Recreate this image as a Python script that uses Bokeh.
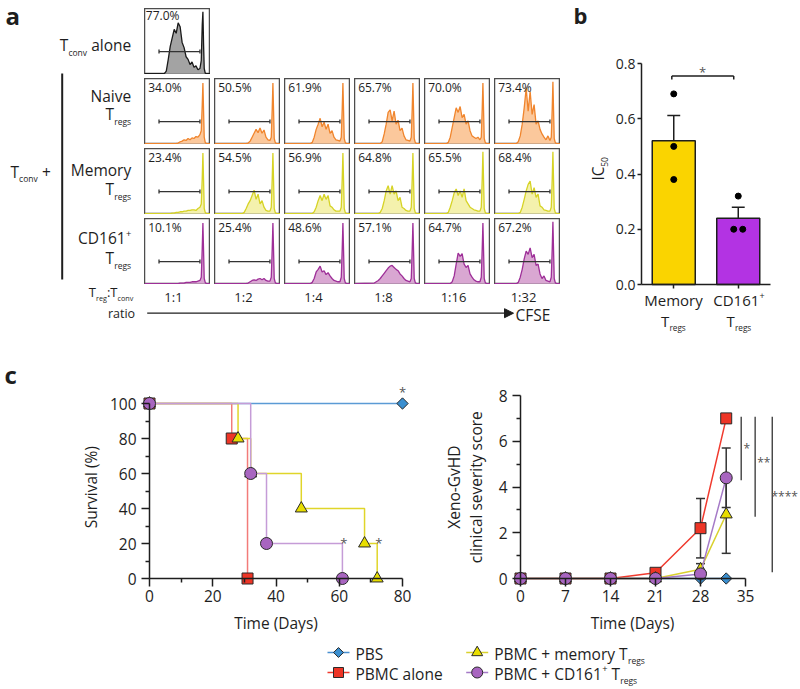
import numpy as np
from bokeh.plotting import figure
from bokeh.layouts import row, column
from bokeh.models import (FixedTicker, Range1d, PrintfTickFormatter,
                          Arrow, NormalHead, Spacer)
from bokeh.core.properties import value
from bokeh.embed import file_html
from bokeh.resources import INLINE

FONT = "Open Sans"
INK = "#1e1e1e"
STAR = "#555555"

# ---------------- Panel a : CFSE dilution ----------------
RATIOS = ["1:1", "1:2", "1:4", "1:8", "1:16", "1:32"]
PCT_ALONE = 77.0
PCT_NAIVE = [34.0, 50.5, 61.9, 65.7, 70.0, 73.4]
PCT_MEMORY = [23.4, 54.5, 56.9, 64.8, 65.5, 68.4]
PCT_CD161 = [10.1, 25.4, 48.6, 57.1, 64.7, 67.2]
GATE = [0.22, 0.84]
CFSE_X = [0.00, 0.30, 0.33, 0.36, 0.39, 0.42, 0.45, 0.48, 0.51, 0.54, 0.57, 0.60, 0.63, 0.66,
          0.69, 0.72, 0.75, 0.78, 0.81, 0.84, 0.86, 0.875, 0.885, 0.895, 0.905, 0.92, 0.94, 1.00]
HIST_ALONE = [0, 0, 0.04, 0.22, 0.42, 0.55, 0.68, 0.62, 0.78, 0.72, 0.48, 0.40, 0.26, 0.22,
              0.14, 0.18, 0.10, 0.12, 0.06, 0.08, 0.20, 0.75, 0.95, 0.45, 0.08, 0.01, 0, 0]
HIST_NAIVE = [
    [0, 0, 0, 0, 0, 0, 0, 0, 0.01, 0.03, 0.04, 0.06, 0.05, 0.08, 0.06, 0.09, 0.08, 0.11, 0.10, 0.14, 0.20, 0.60, 0.93, 0.50, 0.10, 0.02, 0, 0],
    [0, 0, 0, 0, 0, 0, 0, 0, 0.01, 0.04, 0.10, 0.16, 0.22, 0.17, 0.24, 0.16, 0.21, 0.10, 0.06, 0.05, 0.10, 0.55, 0.93, 0.50, 0.08, 0.02, 0, 0],
    [0, 0, 0, 0, 0, 0.02, 0.10, 0.22, 0.30, 0.39, 0.26, 0.33, 0.22, 0.30, 0.16, 0.20, 0.10, 0.06, 0.05, 0.04, 0.10, 0.55, 0.93, 0.50, 0.08, 0.02, 0, 0],
    [0, 0, 0, 0, 0, 0.03, 0.15, 0.30, 0.48, 0.52, 0.35, 0.50, 0.30, 0.36, 0.20, 0.24, 0.12, 0.06, 0.05, 0.04, 0.10, 0.55, 0.93, 0.50, 0.08, 0.02, 0, 0],
    [0, 0, 0, 0.02, 0.10, 0.25, 0.40, 0.55, 0.48, 0.57, 0.40, 0.45, 0.30, 0.35, 0.20, 0.12, 0.10, 0.08, 0.10, 0.06, 0.10, 0.55, 0.93, 0.50, 0.08, 0.02, 0, 0],
    [0, 0, 0, 0.03, 0.12, 0.30, 0.55, 0.85, 0.50, 0.80, 0.45, 0.60, 0.30, 0.35, 0.22, 0.15, 0.10, 0.06, 0.12, 0.05, 0.10, 0.55, 0.95, 0.50, 0.08, 0.02, 0, 0],
]
HIST_MEMORY = [
    [0, 0, 0, 0, 0, 0.01, 0.01, 0.02, 0.02, 0.03, 0.03, 0.04, 0.04, 0.05, 0.05, 0.06, 0.06, 0.05, 0.08, 0.10, 0.15, 0.55, 0.93, 0.50, 0.08, 0.02, 0, 0],
    [0, 0, 0, 0, 0, 0, 0.02, 0.08, 0.15, 0.20, 0.28, 0.36, 0.22, 0.30, 0.15, 0.20, 0.10, 0.05, 0.04, 0.04, 0.10, 0.55, 0.93, 0.50, 0.08, 0.02, 0, 0],
    [0, 0, 0, 0, 0, 0, 0.03, 0.10, 0.20, 0.28, 0.20, 0.30, 0.22, 0.28, 0.12, 0.10, 0.06, 0.04, 0.04, 0.04, 0.10, 0.55, 0.93, 0.50, 0.08, 0.02, 0, 0],
    [0, 0, 0, 0, 0.02, 0.08, 0.20, 0.35, 0.43, 0.30, 0.43, 0.30, 0.35, 0.20, 0.25, 0.10, 0.08, 0.05, 0.04, 0.04, 0.10, 0.55, 0.93, 0.50, 0.08, 0.02, 0, 0],
    [0, 0, 0, 0.02, 0.10, 0.20, 0.32, 0.38, 0.28, 0.35, 0.25, 0.38, 0.20, 0.15, 0.10, 0.08, 0.06, 0.05, 0.04, 0.04, 0.10, 0.55, 0.95, 0.50, 0.08, 0.02, 0, 0],
    [0, 0, 0, 0, 0.02, 0.10, 0.22, 0.35, 0.45, 0.50, 0.30, 0.40, 0.25, 0.30, 0.12, 0.10, 0.06, 0.05, 0.04, 0.04, 0.10, 0.55, 0.95, 0.50, 0.08, 0.02, 0, 0],
]
HIST_CD161 = [
    [0, 0, 0, 0, 0, 0, 0, 0, 0, 0.01, 0.01, 0.01, 0.02, 0.02, 0.02, 0.03, 0.03, 0.03, 0.04, 0.05, 0.10, 0.55, 0.93, 0.50, 0.08, 0.02, 0, 0],
    [0, 0, 0, 0, 0, 0, 0, 0, 0.01, 0.03, 0.05, 0.06, 0.05, 0.07, 0.08, 0.06, 0.08, 0.05, 0.04, 0.04, 0.10, 0.55, 0.93, 0.50, 0.08, 0.02, 0, 0],
    [0, 0, 0, 0, 0, 0.02, 0.08, 0.18, 0.22, 0.27, 0.18, 0.20, 0.14, 0.17, 0.12, 0.08, 0.05, 0.04, 0.03, 0.03, 0.10, 0.55, 0.93, 0.50, 0.08, 0.02, 0, 0],
    [0, 0.01, 0.03, 0.05, 0.08, 0.12, 0.16, 0.20, 0.24, 0.27, 0.28, 0.25, 0.22, 0.20, 0.15, 0.12, 0.08, 0.05, 0.04, 0.03, 0.08, 0.55, 0.93, 0.50, 0.08, 0.02, 0, 0],
    [0, 0, 0, 0, 0, 0.03, 0.12, 0.30, 0.47, 0.42, 0.46, 0.30, 0.25, 0.28, 0.15, 0.10, 0.06, 0.04, 0.03, 0.03, 0.10, 0.55, 0.93, 0.50, 0.08, 0.02, 0, 0],
    [0, 0, 0, 0.02, 0.10, 0.22, 0.38, 0.50, 0.45, 0.55, 0.40, 0.45, 0.28, 0.30, 0.15, 0.08, 0.12, 0.05, 0.04, 0.03, 0.10, 0.55, 0.95, 0.50, 0.08, 0.02, 0, 0],
]

# ---------------- Panel b : IC50 ----------------
B_GROUPS = ["Memory", "CD161+"]
B_MEAN = [0.52, 0.24]
B_SEM = [0.092, 0.04]
B_POINTS = [[0.69, 0.50, 0.38], [0.32, 0.20, 0.20]]
B_JITTER = [[0, 0, 0], [0, -0.07, 0.07]]
B_SIG = (0.47, 1.43, 0.755)

# ---------------- Panel c : survival ----------------
SURV_T = {"PBS": [0, 80], "PBMC": [0, 26, 31], "MEM": [0, 28, 32, 48, 68, 72], "CD161": [0, 32, 37, 61]}
SURV_S = {"PBS": [100, 100], "PBMC": [100, 80, 0], "MEM": [100, 80, 60, 40, 20, 0], "CD161": [100, 60, 20, 0]}

# ---------------- Panel c : clinical score ----------------
DAYS = [0, 7, 14, 21, 28, 32]
SCORE = {"PBS": [0, 0, 0, 0, 0, 0], "PBMC": [0, 0, 0, 0.25, 2.2, 7.0],
         "MEM": [0, 0, 0, 0, 0.4, 2.8], "CD161": [0, 0, 0, 0, 0.2, 4.4]}
SCORE_ERR = {"PBS": [0, 0, 0, 0, 0, 0], "PBMC": [0, 0, 0, 0, 1.3, 0],
             "MEM": [0, 0, 0, 0, 0.25, 1.7], "CD161": [0, 0, 0, 0, 0, 1.3]}
SIG_X = [34.33, 36.5, 39.16]
SIG_Y0 = [4.3, 2.7, 0.27]
SIG_Y1 = [7.07, 7.07, 7.07]
SIG_TXT = ["*", "**", "****"]

SERIES = ["PBS", "PBMC", "MEM", "CD161"]
MARK = {"PBS": ("square", 8, np.pi / 4), "PBMC": ("square", 11, 0.0),
        "MEM": ("triangle", 12, 0.0), "CD161": ("circle", 12, 0.0)}
FILL = {"PBS": "#3a8fd0", "PBMC": "#ee3526", "MEM": "#e8de00", "CD161": "#a865c0"}
SURV_LINE = {"PBS": "#5b9bd5", "PBMC": "#f27b79", "MEM": "#e0d52a", "CD161": "#c59cd7"}
CLIN_LINE = {"PBS": "#4a90d0", "PBMC": "#f03a2e", "MEM": "#d9d12e", "CD161": "#a57ac7"}

# ---------------- text helpers ----------------
CW = {' ': 0.26, '+': 0.572, '.': 0.266, ':': 0.266, '%': 0.823, '(': 0.297, ')': 0.297,
      '*': 0.551, '-': 0.322, 'A': 0.633, 'B': 0.648, 'C': 0.632, 'D': 0.738, 'E': 0.556,
      'F': 0.529, 'G': 0.721, 'H': 0.739, 'I': 0.279, 'M': 0.907, 'N': 0.754, 'P': 0.603,
      'S': 0.549, 'T': 0.556, 'V': 0.600, 'X': 0.577, 'a': 0.556, 'b': 0.613, 'c': 0.480,
      'd': 0.613, 'e': 0.564, 'g': 0.547, 'h': 0.615, 'i': 0.258, 'l': 0.258, 'm': 0.929,
      'n': 0.615, 'o': 0.602, 'p': 0.613, 'r': 0.408, 's': 0.477, 't': 0.353, 'u': 0.615,
      'v': 0.500, 'y': 0.500}
for d in "0123456789":
    CW[d] = 0.572
BASE_FIX = 0.29  # rendered alphabetic baseline sits ~0.29em lower; compensate


def tw(s, size):
    return sum(CW.get(c, 0.56) for c in s) * size


def make_put(p, fx, fy):
    def put(x, y, s, size, align="left", baseline="alphabetic", bold=False, color=INK, angle=0.0):
        if baseline == "alphabetic":
            y = y - BASE_FIX * size
        p.text(x=[fx(x)], y=[fy(y)], text=[s], text_font=value(FONT), angle=angle,
               text_font_size=f"{size:.1f}px", text_align=align, text_baseline=baseline,
               text_color=color, text_font_style="bold" if bold else "normal")
    return put


def rich(put, x, y, segs, size, align="left", color=INK):
    parts = []
    for s, k in segs:
        fs = size if k == "n" else size * (0.55 if k == "sub" else 0.6)
        off = 0 if k == "n" else (0.32 * size if k == "sub" else -0.42 * size)
        parts.append((s, fs, off))
    total = sum(tw(s, fs) for s, fs, _ in parts)
    cx = x - (total / 2 if align == "center" else total if align == "right" else 0)
    for s, fs, off in parts:
        cx += (len(s) - len(s.lstrip())) * CW[' '] * fs
        core = s.strip()
        put(cx, y + off, core, fs, color=color)
        cx += tw(core, fs) + (len(s) - len(s.rstrip())) * CW[' '] * fs


def canvas(w, h):
    p = figure(width=w, height=h, x_range=Range1d(0, w), y_range=Range1d(h, 0),
               x_axis_type=None, y_axis_type=None, output_backend="svg",
               toolbar_location=None, min_border=0)
    p.outline_line_color = None
    return p


def chart(w, h, fx, fy, left, top, tick_size="15.5px"):
    """Figure whose frame fills it; fx/fy map reference pixels to data units."""
    p = figure(width=w, height=h, x_range=Range1d(fx(left), fx(left + w)),
               y_range=Range1d(fy(top + h), fy(top)), output_backend="svg",
               toolbar_location=None, min_border=0)
    for ax in (p.xaxis[0], p.yaxis[0]):
        ax.fixed_location = 0
        ax.axis_line_color = INK
        ax.axis_line_width = 1.5
        ax.major_tick_line_color = INK
        ax.major_tick_line_width = 1.5
        ax.minor_tick_line_color = INK
        ax.minor_tick_line_width = 1.5
        ax.major_tick_in = 0
        ax.minor_tick_in = 0
        ax.major_label_text_font = FONT
        ax.major_label_text_font_size = tick_size
        ax.major_label_text_color = INK
    p.xgrid.visible = False
    p.ygrid.visible = False
    p.outline_line_color = None
    return p


# ================= Panel a =================
left = canvas(144, 338)
putL = make_put(left, lambda v: v, lambda v: v)
putL(5, 22, "a", 24, bold=True)
rich(putL, 59.3, 49.3, [("T", "n"), ("conv", "sub"), (" alone", "n")], 15.5)
putL(130.7, 100, "Naive", 15.5, align="right")
rich(putL, 130.7, 118.3, [("T", "n"), ("regs", "sub")], 15.5, align="right")
putL(130.7, 174, "Memory", 15.5, align="right")
rich(putL, 130.7, 193.3, [("T", "n"), ("regs", "sub")], 15.5, align="right")
rich(putL, 130.7, 242.3, [("CD161", "n"), ("+", "sup")], 15.5, align="right")
rich(putL, 130.7, 262.3, [("T", "n"), ("regs", "sub")], 15.5, align="right")
rich(putL, 10, 175.7, [("T", "n"), ("conv", "sub"), (" +", "n")], 15.5)
left.segment(x0=[61.7], y0=[73], x1=[61.7], y1=[279], line_color=INK, line_width=2)
rich(putL, 88.3, 295, [("T", "n"), ("reg", "sub"), (":", "n"), ("T", "n"), ("conv", "sub")], 13)
putL(121, 317, "ratio", 12.5, align="center")

HW = 66
COLS = {"alone": ("#1a1a1a", "#a3a3a3"), "naive": ("#f0852d", "#fbc89c"),
        "memory": ("#d6d326", "#f4f1ad"), "cd161": ("#9e2f98", "#d9a7d2")}


def hist_fig(vals, pct, line_c, fill_c, pct_xy=(0.055, 0.865)):
    p = figure(width=HW, height=HW, x_range=Range1d(0, 1), y_range=Range1d(-0.012, 1.0),
               x_axis_type=None, y_axis_type=None, toolbar_location=None,
               output_backend="svg", min_border=0)
    p.outline_line_color = "#4d4d4d"
    p.outline_line_width = 1.5
    p.varea(x=CFSE_X, y1=0, y2=vals, fill_color=fill_c)
    p.line(CFSE_X, vals, line_color=line_c, line_width=1.3)
    gy = 0.34
    p.segment(x0=[GATE[0]], y0=[gy], x1=[GATE[1]], y1=[gy], line_color="#333333", line_width=1.3)
    p.segment(x0=GATE, y0=[gy - 0.03] * 2, x1=GATE, y1=[gy + 0.03] * 2,
              line_color="#333333", line_width=1.3)
    p.text(x=[pct_xy[0]], y=[pct_xy[1]], text=[f"{pct:.1f}%"], text_font=value(FONT),
           text_font_size="12px", text_color=INK, text_baseline="alphabetic")
    return p


fa = hist_fig(HIST_ALONE, PCT_ALONE, *COLS["alone"], pct_xy=(0.02, 0.9))
grid_rows = [fa]
for hists, pcts, key in [(HIST_NAIVE, PCT_NAIVE, "naive"), (HIST_MEMORY, PCT_MEMORY, "memory"),
                         (HIST_CD161, PCT_CD161, "cd161")]:
    grid_rows.append(row(*[hist_fig(h, v, *COLS[key]) for h, v in zip(hists, pcts)], spacing=4))
grid = column(*grid_rows, spacing=4)

bottom = canvas(416, 54)
putB = make_put(bottom, lambda v: v - 144, lambda v: v - 284)
for i, r in enumerate(RATIOS):
    putB(144 + HW / 2 + i * (HW + 4) - 4, 300, r, 13, align="center")
bottom.add_layout(Arrow(end=NormalHead(size=9, line_color=INK, fill_color=INK),
                        x_start=146.7 - 144, y_start=312.7 - 284, x_end=513 - 144, y_end=312.7 - 284,
                        line_color=INK, line_width=1.3))
putB(515, 318.5, "CFSE", 15.5)

panel_a = row(left, column(Spacer(width=416, height=8), grid, bottom))

# ================= Panel b =================
bfx = lambda v: (v - 641) / 64.5
bfy = lambda v: (284 - v) / 276.25
pb = chart(238, 338, bfx, bfy, 560, 0, "14px")
bx = [0.5, 1.5]
pb.vbar(x=bx, top=B_MEAN, width=0.667, fill_color=["#fad400", "#b333e3"],
        line_color=INK, line_width=1.5)
tops = [m + s for m, s in zip(B_MEAN, B_SEM)]
pb.segment(x0=bx, y0=B_MEAN, x1=bx, y1=tops, line_color=INK, line_width=1.5)
pb.segment(x0=[x - 0.1 for x in bx], y0=tops, x1=[x + 0.1 for x in bx], y1=tops,
           line_color=INK, line_width=1.5)
for x, pts, jit in zip(bx, B_POINTS, B_JITTER):
    pb.scatter([x + j for j in jit], pts, size=6, color="black")
x0s, x1s, ys = B_SIG
pb.segment(x0=[x0s, x0s, x1s], y0=[ys, ys, ys], x1=[x1s, x0s, x1s], y1=[ys, ys - 0.013, ys - 0.013],
           line_color=INK, line_width=1.5)
pb.yaxis.ticker = FixedTicker(ticks=[0, 0.2, 0.4, 0.6, 0.8])
pb.yaxis.formatter = PrintfTickFormatter(format="%.1f")
pb.yaxis.bounds = (0, 0.8)
pb.yaxis.major_tick_out = 4
pb.yaxis.major_label_standoff = 2
pb.xaxis.ticker = FixedTicker(ticks=bx)
pb.xaxis.major_label_overrides = {0.5: "", 1.5: ""}
pb.xaxis.major_tick_out = 4
pb.xaxis.bounds = (0, 2)
putb = make_put(pb, bfx, bfy)
putb(573, 21, "b", 22, bold=True)
putb(597, 173, "IC", 15.5, align="center", baseline="middle", angle=np.pi / 2)
putb(603.5, 161.5, "50", 8.5, align="center", baseline="middle", angle=np.pi / 2)
putb(673, 304, "Memory", 15, align="center")
rich(putb, 673, 325, [("T", "n"), ("regs", "sub")], 15, align="center")
rich(putb, 738.5, 304, [("CD161", "n"), ("+", "sup")], 15, align="center")
rich(putb, 738.5, 325, [("T", "n"), ("regs", "sub")], 15, align="center")
putb(702, 68 + 0.57 * 13, "*", 13, align="center", color=STAR)

# ================= Panel c : survival =================
SW = 412
sfx = lambda v: (v - 149) / 3.1625
sfy = lambda v: (578 - v) / 1.75
ps = chart(SW, 298, sfx, sfy, 0, 338)
ps.xaxis.bounds = (0, 80)
ps.yaxis.bounds = (0, 100)
ps.xaxis.ticker = FixedTicker(ticks=[0, 20, 40, 60, 80], minor_ticks=[10, 30, 50, 70])
ps.yaxis.ticker = FixedTicker(ticks=[0, 20, 40, 60, 80, 100], minor_ticks=[10, 30, 50, 70, 90])
for ax in (ps.xaxis[0], ps.yaxis[0]):
    ax.major_tick_out = 8
    ax.minor_tick_out = 4
ps.xaxis.major_label_standoff = 3
ps.yaxis.major_label_standoff = 5
for k in SERIES:
    m, sz, ang = MARK[k]
    ps.step(SURV_T[k], SURV_S[k], mode="after", line_color=SURV_LINE[k], line_width=1.5)
    ps.scatter(SURV_T[k], SURV_S[k], marker=m, size=sz, angle=ang, fill_color=FILL[k],
               line_color="#2a2a2a", line_width=1)
puts = make_put(ps, sfx, sfy)
puts(4, 381, "c", 24, bold=True)
puts(90.7, 486.7, "Survival (%)", 15.5, align="center", baseline="middle", angle=np.pi / 2)
puts(275.5, 622, "Time (Days)", 15.5, align="center", baseline="middle")
for xs, ysc in [(402, 388), (343.3, 539), (378.3, 539)]:
    puts(xs, ysc + 0.57 * 13, "*", 13, align="center", color=STAR)

# ================= Panel c : clinical score =================
PXD = 225 / 35
cfx = lambda v: (v - 520) / PXD
cfy = lambda v: (578 - v) / 22.875
pc = chart(798 - SW, 298, cfx, cfy, SW, 338)
pc.xaxis.bounds = (0, 35)
pc.yaxis.bounds = (0, 8)
pc.xaxis.ticker = FixedTicker(ticks=[0, 7, 14, 21, 28, 35], minor_ticks=[])
pc.yaxis.ticker = FixedTicker(ticks=[0, 2, 4, 6, 8], minor_ticks=[1, 3, 5, 7])
for ax in (pc.xaxis[0], pc.yaxis[0]):
    ax.major_tick_out = 8
    ax.minor_tick_out = 4
pc.xaxis.major_label_standoff = 3
pc.yaxis.major_label_standoff = 5
cap = 0.7
for k in SERIES:
    m, sz, ang = MARK[k]
    ex = [d for d, e in zip(DAYS, SCORE_ERR[k]) if e > 0]
    lo = [v - e for v, e in zip(SCORE[k], SCORE_ERR[k]) if e > 0]
    hi = [v + e for v, e in zip(SCORE[k], SCORE_ERR[k]) if e > 0]
    if ex:
        pc.segment(x0=ex, y0=lo, x1=ex, y1=hi, line_color="#333333", line_width=1.5)
        pc.segment(x0=[x - cap for x in ex] * 2, y0=lo + hi, x1=[x + cap for x in ex] * 2, y1=lo + hi,
                   line_color="#333333", line_width=1.5)
    pc.line(DAYS, SCORE[k], line_color=CLIN_LINE[k], line_width=1.5)
    pc.scatter(DAYS, SCORE[k], marker=m, size=sz, angle=ang, fill_color=FILL[k],
               line_color="#2a2a2a", line_width=1)
pc.segment(x0=SIG_X, y0=SIG_Y0, x1=SIG_X, y1=SIG_Y1, line_color="#333333", line_width=1.3)
putc = make_put(pc, cfx, cfy)
putc(453.3, 486.7, "Xeno-GvHD", 15.5, align="center", baseline="middle", angle=np.pi / 2)
putc(475, 486.7, "clinical severity score", 15.5, align="center", baseline="middle", angle=np.pi / 2)
putc(632, 622, "Time (Days)", 15.5, align="center", baseline="middle")
for (xs, ysc), t in zip([(743, 445), (756.7, 459), (771, 493)], SIG_TXT):
    putc(xs, ysc + 0.57 * 12, t, 12, color=STAR)

# ================= Legend =================
leg = canvas(798, 52)
putg = make_put(leg, lambda v: v, lambda v: v - 636)
LEG = [("PBS", 338, 652, [("PBS", "n")]),
       ("PBMC", 338, 672, [("PBMC alone", "n")]),
       ("MEM", 476.7, 652, [("PBMC + memory T", "n"), ("regs", "sub")]),
       ("CD161", 476.7, 672, [("PBMC + CD161", "n"), ("+", "sup"), (" T", "n"), ("regs", "sub")])]
for k, mx, my, segs in LEG:
    m, sz, ang = MARK[k]
    leg.segment(x0=[mx - 11], y0=[my - 636], x1=[mx + 11], y1=[my - 636],
                line_color=CLIN_LINE[k], line_width=1.5)
    leg.scatter([mx], [my - 636], marker=m, size=sz - 1, angle=-ang, fill_color=FILL[k],
                line_color="#2a2a2a", line_width=1)
    rich(putg, mx + 17, my + 5.5, segs, 15.5)

layout = column(row(panel_a, pb), row(ps, pc), leg)

with open("out.html", "w") as f:
    f.write(file_html(layout, INLINE))
